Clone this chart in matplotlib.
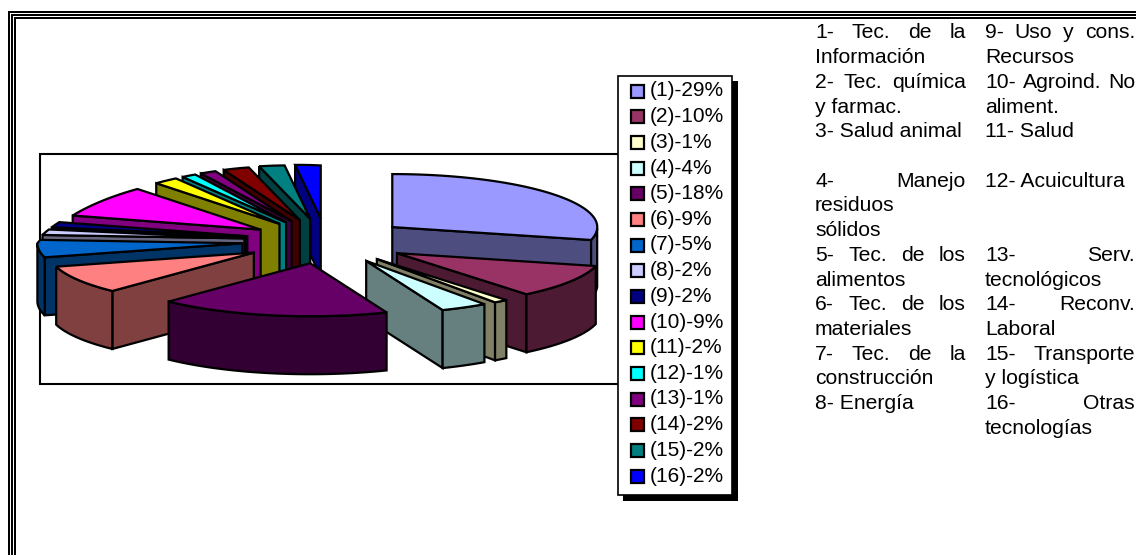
import numpy as np
import matplotlib
matplotlib.use("Agg")
import matplotlib.pyplot as plt
from matplotlib.patches import Polygon, Rectangle
from matplotlib.colors import to_rgb

plt.rcParams['font.family'] = ['Liberation Sans', 'DejaVu Sans']

categories = ["(1)", "(2)", "(3)", "(4)", "(5)", "(6)", "(7)", "(8)", "(9)", "(10)",
              "(11)", "(12)", "(13)", "(14)", "(15)", "(16)"]
percent_labels = [29, 10, 1, 4, 18, 9, 5, 2, 2, 9, 2, 1, 1, 2, 2, 2]
values = [28.9, 10.2, 1.1, 3.7, 18.2, 8.6, 5.3, 1.6, 1.5, 8.5, 2.1, 1.3, 1.49, 2.49, 2.49, 2.49]
colors = ["#9999FF", "#993366", "#FFFFCC", "#CCFFFF", "#660066", "#FF8080", "#0066CC", "#CCCCFF",
          "#000080", "#FF00FF", "#FFFF00", "#00FFFF", "#800080", "#800000", "#008080", "#0000FF"]

col1_lines = ["1- Tec. de la", "Información", "2- Tec. química", "y farmac.", "3- Salud animal", "",
              "4- Manejo", "residuos", "sólidos", "5- Tec. de los", "alimentos", "6- Tec. de los",
              "materiales", "7- Tec. de la", "construcción", "8- Energía"]
col2_lines = ["9- Uso y cons.", "Recursos", "10- Agroind. No", "aliment.", "11- Salud", "",
              "12- Acuicultura", "", "", "13- Serv.", "tecnológicos", "14- Reconv.",
              "Laboral", "15- Transporte", "y logística", "16- Otras", "tecnologías"]
justified1 = {"1- Tec. de la", "2- Tec. química", "4- Manejo", "5- Tec. de los", "6- Tec. de los", "7- Tec. de la"}
justified2 = {"9- Uso y cons.", "10- Agroind. No", "13- Serv.", "14- Reconv.", "15- Transporte", "16- Otras"}

fig = plt.figure(figsize=(11.36, 5.55), dpi=100)
ax = fig.add_axes([0, 0, 1, 1])
ax.set_xlim(0, 1136)
ax.set_ylim(555, 0)
ax.axis('off')

# triple page border
for off in (9, 12, 15):
    ax.plot([off, off], [off + 2, 555], color='k', lw=1.44, solid_capstyle='butt')
    ax.plot([off - 1, 1136], [off + 3, off + 3], color='k', lw=1.44, solid_capstyle='butt')

# plot-area frame
ax.add_patch(Rectangle((40, 154), 580, 230, fc='white', ec='k', lw=1.5, zorder=1))

# 3-D exploded pie
CX, CY, RX, RY, DEPTH = 326, 241, 205, 53, 58
EXPL_X, EXPL_Y = 0.41, 0.427
K_X, K_Y = 0.2, 0.15   # foreshortening of the far-left quadrant
LW = 1.6
vals = np.array(values, float)
fracs = np.cumsum(np.r_[0, vals]) / vals.sum()
starts = np.pi / 2 - 2 * np.pi * fracs[:-1]
ends = np.pi / 2 - 2 * np.pi * fracs[1:]
mids = (starts + ends) / 2
order = np.argsort(-np.sin(mids))


def sx(th):
    return 1 - K_X * np.where((np.cos(th) < 0) & (np.sin(th) > 0), np.sin(th), 0)


def sy(th):
    return 1 + K_Y * np.where((np.cos(th) < 0) & (np.sin(th) > 0), -np.cos(th) * np.sin(th), 0)


def pts(ax0, ay0, th):
    return np.c_[ax0 + RX * np.cos(th) * sx(th), ay0 - RY * np.sin(th) * sy(th)]


z = 2
for i in order:
    ax0 = CX + EXPL_X * RX * np.cos(mids[i]) * sx(mids[i])
    ay0 = CY - EXPL_Y * RY * np.sin(mids[i])
    th = np.linspace(starts[i], ends[i], 60)
    arc = pts(ax0, ay0, th)
    rgb = np.array(to_rgb(colors[i]))
    side = tuple(rgb * 0.5)
    apex = np.array([[ax0, ay0]])
    down = np.array([0, DEPTH])
    walls = []
    if np.cos(starts[i]) < 0:
        walls.append(np.vstack([apex, arc[:1], arc[:1] + down, apex + down]))
    if np.cos(ends[i]) > 0:
        walls.append(np.vstack([apex, arc[-1:], arc[-1:] + down, apex + down]))
    vis = np.sin(th) < 0
    if vis.sum() > 1:
        seg = arc[vis]
        walls.append(np.vstack([seg, seg[::-1] + down]))
    for w in walls:
        ax.add_patch(Polygon(w, closed=True, fc=side, ec='k', lw=LW, zorder=z))
        z += 1
    ax.add_patch(Polygon(np.vstack([apex, arc]), closed=True, fc=rgb, ec='k', lw=LW, zorder=z))
    z += 1

# legend
z = 200
ax.add_patch(Rectangle((623, 81), 115, 420, fc='k', ec='none', zorder=z))
ax.add_patch(Rectangle((617.5, 76), 114.5, 419, fc='white', ec='k', lw=1.2, zorder=z + 1))
ys = np.linspace(91, 476, len(categories))
for y, c, cat, p in zip(ys, colors, categories, percent_labels):
    ax.add_patch(Rectangle((631, y - 6.5), 13, 13, fc=c, ec='k', lw=1.6, zorder=z + 2))
    ax.text(650, y, f"{cat}-{p}%", fontsize=15, va='center', ha='left', color='k', zorder=z + 3)


# justified text columns
def put_col(lines, x0, x1, justified, y0=31, step=24.7):
    r = fig.canvas.get_renderer()
    for k, line in enumerate(lines):
        if not line:
            continue
        y = y0 + k * step
        if line in justified:
            words = line.split(' ')
            arts = [ax.text(0, y, w, fontsize=15.2, va='center_baseline', ha='left') for w in words]
            widths = [a.get_window_extent(r).width for a in arts]
            gap = (x1 - x0 - sum(widths)) / (len(words) - 1)
            x = x0
            for a, wd in zip(arts, widths):
                a.set_x(x)
                x += wd + gap
        else:
            ax.text(x0, y, line, fontsize=15.2, va='center_baseline', ha='left')


put_col(col1_lines, 815, 966, justified1)
put_col(col2_lines, 985, 1135, justified2)

fig.savefig("out.png", dpi=100)
